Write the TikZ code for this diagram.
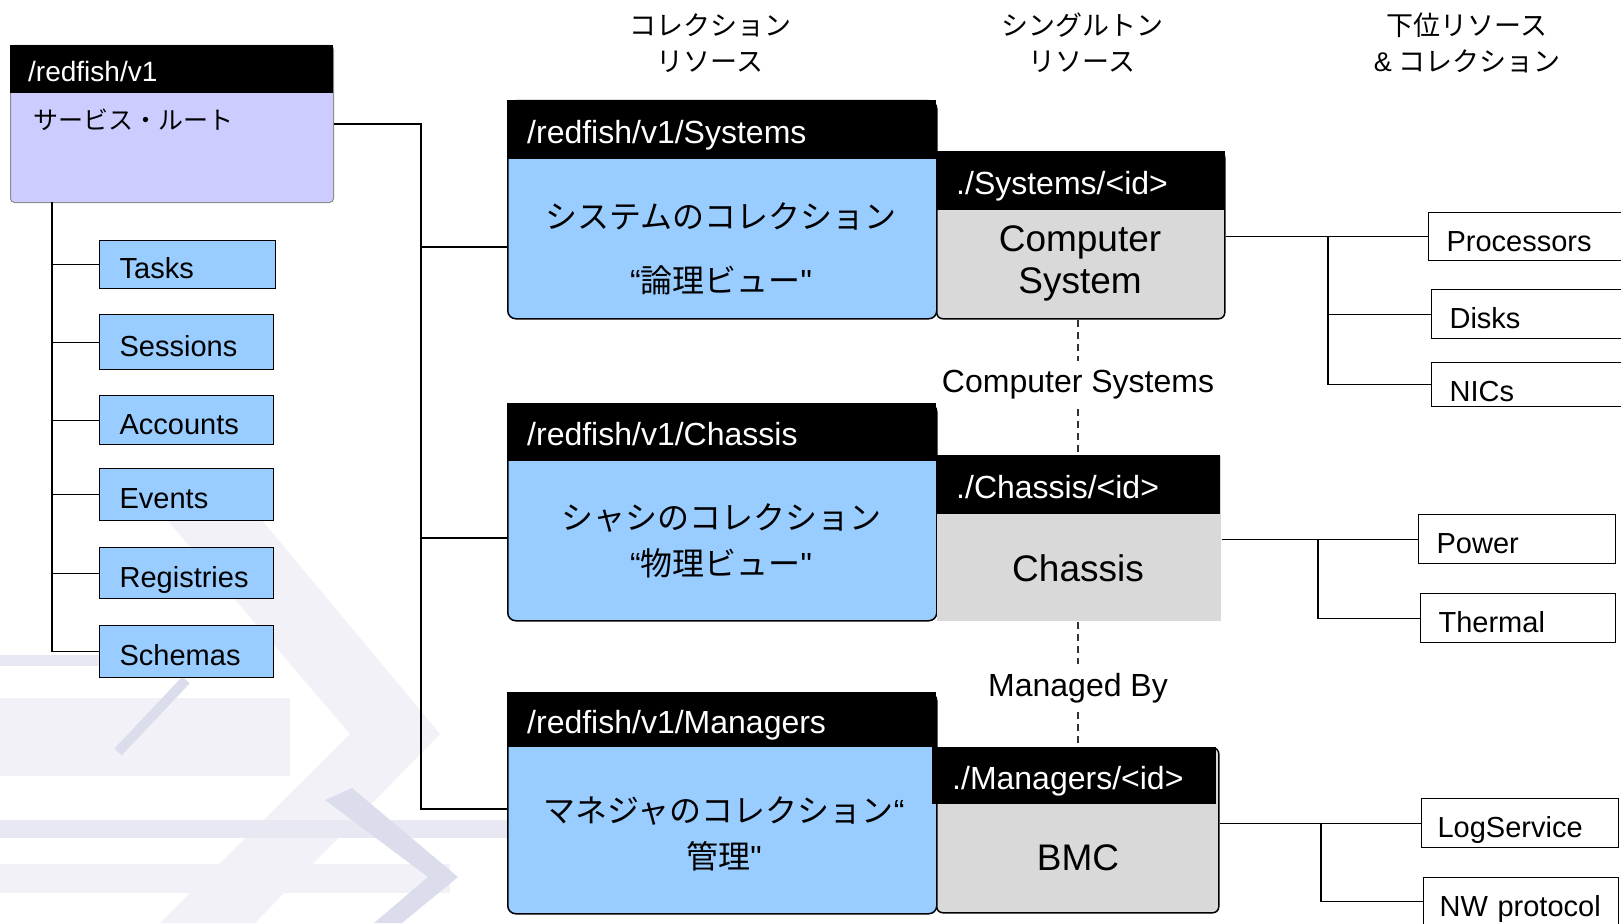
\documentclass[tikz,border=0pt]{standalone}
\usepackage{fontspec}
\setmainfont{Liberation Sans}
\newfontfamily\jpfont{Noto Sans CJK JP}
\newfontfamily\qfont{Liberation Sans}
\usepackage{tikz}

\definecolor{rootblue}{RGB}{204,204,255}
\definecolor{collblue}{RGB}{153,204,255}
\definecolor{singgray}{RGB}{217,217,217}
\definecolor{wmlight}{RGB}{241,241,247}
\definecolor{wmmid}{RGB}{231,232,242}
\definecolor{wmdark}{RGB}{219,221,236}
\newcommand{\pxsize}[2]{\fontsize{#1}{#2}\selectfont}

\begin{document}
\begin{tikzpicture}[x=1pt, y=-1pt,
    hdr/.style={fill=black, text=white, anchor=north west, inner xsep=20, inner ysep=0, align=left, text height=27, text depth=0, font=\pxsize{32}{38}},
    cbody/.style={draw=black, fill=collblue, rounded corners=8, line width=1.5, anchor=north west, minimum width=429, inner sep=0},
    sbody/.style={draw=black, fill=singgray, rounded corners=6, line width=1.5, anchor=north west, minimum width=288, inner sep=0},
    ctext/.style={align=center, inner sep=0, font=\jpfont\pxsize{32}{38}},
    stext/.style={align=center, inner sep=0, font=\pxsize{37}{40}},
    lbox/.style={draw=black, fill=collblue, line width=1.3, anchor=north west, inner xsep=20, inner ysep=0, text width=134, align=left, text height=28, text depth=0, font=\pxsize{29}{34}},
    rbox/.style={draw=black, fill=white, line width=1.2, anchor=north west, inner xsep=18, inner ysep=0, align=left, text height=29, text depth=0, font=\pxsize{29}{34}},
    rel/.style={inner xsep=0, inner ysep=9, font=\pxsize{32}{38}},
    toplbl/.style={align=center, inner sep=0, font=\jpfont\pxsize{27}{36}},
    link/.style={line width=1.2},
    trunk/.style={line width=2.5},
    reldash/.style={line width=1.2, black!80, dash pattern=on 7pt off 5pt}]
    \useasboundingbox (0,0) rectangle (1621,923);
    % watermark in the background
    \fill [wmlight] (0,698) rectangle (290,776);
    \fill [wmlight] (150,500) -- (245,500) -- (440,734) -- (255,923) -- (160,923) -- (350,734) -- cycle;
    \fill [wmmid] (0,655) rectangle (100,666);
    \fill [wmmid] (0,820) rectangle (507,838);
    \fill [wmlight] (0,864) rectangle (450,893);
    \fill [wmdark] (325,800) -- (352,788) -- (458,877) -- (402,923) -- (374,923) -- (428,877) -- cycle;
    \draw [wmdark, line width=10] (118,752) -- (186,680);

    % column titles
    \node [toplbl] (colltitle) at (710,43) {コレクション\\リソース};
    \node [toplbl] (singtitle) at (1082,43) {シングルトン\\リソース};
    \node [toplbl] (subtitle) at (1467,43) {下位リソース\\{\qfont\&} コレクション};

    % service root
    \node [draw=black!45, fill=rootblue, rounded corners=4, line width=1, anchor=north west, minimum width=323, minimum height=157, inner sep=0] (root) at (10,45) {};
    \node [hdr, font=\pxsize{28}{34}, inner xsep=18, text width=287, text height=25, minimum height=48] (rooth) at (10,45) {/redfish/v1};
    \node [anchor=west, inner sep=0, font=\jpfont\pxsize{25}{30}] (roottext) at (33,120) {サービス・ルート};

    % services below the root
    \node [lbox, text width=136, minimum height=48] (tasks) at (99,240) {Tasks};
    \node [lbox, minimum height=55] (sessions) at (99,314) {Sessions};
    \node [lbox, minimum height=49] (accounts) at (99,395) {Accounts};
    \node [lbox, minimum height=52] (events) at (99,468) {Events};
    \node [lbox, minimum height=51] (registries) at (99,547) {Registries};
    \node [lbox, minimum height=52] (schemas) at (99,625) {Schemas};
    \coordinate (ltop) at (52,202);
    \draw [line width=1.6] (ltop) |- (schemas.west);
    \draw [link] (ltop |- tasks.west) -- (tasks.west);
    \draw [link] (ltop |- sessions.west) -- (sessions.west);
    \draw [link] (ltop |- accounts.west) -- (accounts.west);
    \draw [link] (ltop |- events.west) -- (events.west);
    \draw [link] (ltop |- registries.west) -- (registries.west);

    % collection resources
    \node [cbody, minimum height=218] (sysc) at (507,100) {};
    \node [hdr, text width=389, minimum height=59] (sysch) at (507,100) {/redfish/v1/Systems};
    \node [ctext] (syscText) at (721,249) {システムのコレクション\\[26pt]{\qfont “}論理ビュー{\qfont "}};
    \node [cbody, minimum height=217] (chac) at (507,403) {};
    \node [hdr, text width=389, minimum height=58] (chach) at (507,403) {/redfish/v1/Chassis};
    \node [ctext] (chacText) at (721,541) {シャシのコレクション\\[8pt]{\qfont “}物理ビュー{\qfont "}};
    \node [cbody, minimum height=221] (mgrc) at (507,692) {};
    \node [hdr, text width=389, minimum height=55] (mgrch) at (507,692) {/redfish/v1/Managers};
    \node [ctext] (mgrcText) at (724,834) {マネジャのコレクション{\qfont “}\\[8pt]管理{\qfont "}};
    \coordinate (jsysc) at (421,247);
    \coordinate (jchac) at (421,538);
    \coordinate (jmgrc) at (421,809);
    \draw [trunk] (root.east) -| (jchac) -- (chac.west |- jchac);
    \draw [link] (jsysc) -- (sysc.west |- jsysc);
    \draw [link] (jchac) |- (mgrc.west |- jmgrc);

    % singleton resources
    \node [sbody, minimum height=167] (csys) at (936,151) {};
    \node [hdr, text width=249, minimum height=59] (csysh) at (936,151) {./Systems/<id>};
    \node [stext] (csysText) at (1080,263) {Computer\\[2pt]System};
    \node [sbody, draw=none, rounded corners=0, minimum width=284, minimum height=165] (chas) at (936,455) {};
    \node [hdr, text width=244, minimum height=59] (chash) at (936,455) {./Chassis/<id>};
    \node [stext] (chasText) at (1078,568) {Chassis};
    \node [sbody, minimum width=282, minimum height=165] (bmc) at (936,747) {};
    \node [hdr, text width=244, minimum height=57] (bmch) at (932,747) {./Managers/<id>};
    \node [stext] (bmcText) at (1078,858) {BMC};

    % links between singletons
    \node [rel] (csysRel) at (1078,385) {Computer Systems};
    \node [rel] (mgdRel) at (1078,688) {Managed By};
    \draw [reldash] (csysRel |- csys.south) -- (csysRel.north);
    \draw [reldash] (csysRel.south) -- (csysRel |- chash.north);
    \draw [reldash] (mgdRel |- chas.south) -- (mgdRel.north);
    \draw [reldash] (mgdRel.south) -- (mgdRel |- bmch.north);

    % sub resources and collections
    \node [rbox, text width=176, minimum height=48] (procs) at (1428,212) {Processors};
    \node [rbox, text width=173, minimum height=49] (disks) at (1431,289) {Disks};
    \node [rbox, text width=173, text height=33, minimum height=44] (nics) at (1431,362) {NICs};
    \node [rbox, text width=161, minimum height=49] (power) at (1418,514) {Power};
    \node [rbox, text width=159, minimum height=49] (thermal) at (1420,593) {Thermal};
    \node [rbox, inner xsep=16, text width=165, minimum height=49] (logsvc) at (1421,798) {LogService};
    \node [rbox, inner xsep=16, text width=163, minimum height=48] (nwproto) at (1423,877) {\mbox{NW protocol}};
    \coordinate (jcsys) at (1328,236);
    \coordinate (jchas) at (1318,539);
    \coordinate (jbmc) at (1321,822);
    \draw [link] (csys.east |- procs.west) -- (procs.west);
    \draw [link] (jcsys |- procs.west) |- (disks.west);
    \draw [link] (jcsys |- procs.west) |- (nics.west);
    \draw [link] (chas.east |- power.west) -- (power.west);
    \draw [link] (jchas |- power.west) |- (thermal.west);
    \draw [link] (bmc.east |- logsvc.west) -- (logsvc.west);
    \draw [link] (jbmc |- logsvc.west) |- (nwproto.west);
\end{tikzpicture}
\end{document}
